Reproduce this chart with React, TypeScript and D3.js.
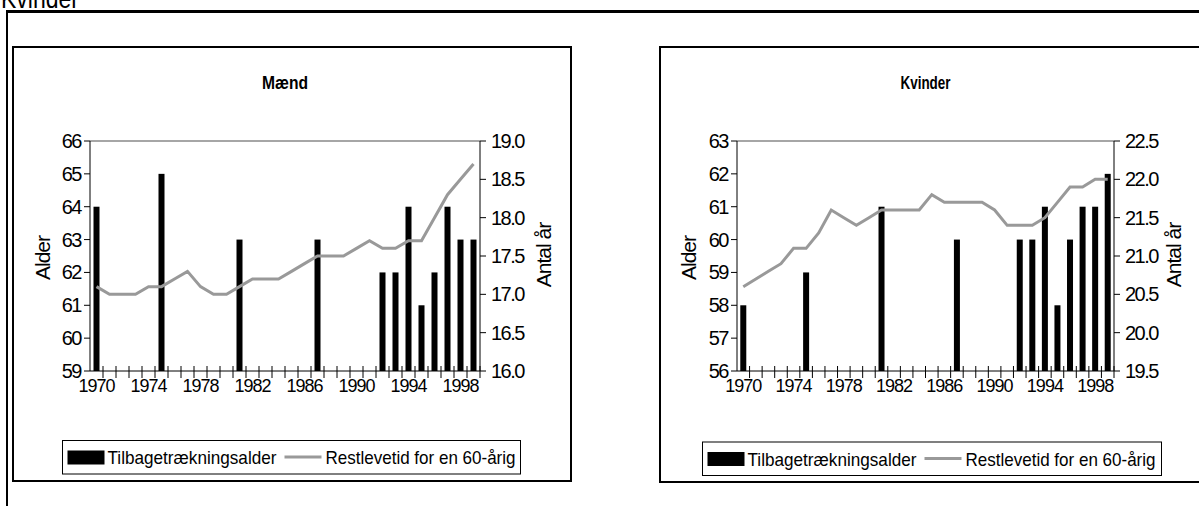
import React from 'react';
import * as d3 from 'd3';

const years = ['1970','1971','1972','1973','1974','1975','1976','1977','1978','1979','1980','1981','1982','1983','1984','1985','1986','1987','1988','1989','1990','1991','1992','1993','1994','1995','1996','1997','1998','1999'];
const xTickLabels = ['1970','1974','1978','1982','1986','1990','1994','1998'];

const maendAlder: (number | null)[] = [64,null,null,null,null,65,null,null,null,null,null,63,null,null,null,null,null,63,null,null,null,null,62,62,64,61,62,64,63,63];
const maendRest = [17.1,17.0,17.0,17.0,17.1,17.1,17.2,17.3,17.1,17.0,17.0,17.1,17.2,17.2,17.2,17.3,17.4,17.5,17.5,17.5,17.6,17.7,17.6,17.6,17.7,17.7,18.0,18.3,18.5,18.7];
const maendLeftTicks = [59,60,61,62,63,64,65,66];
const maendRightTicks = [16.0,16.5,17.0,17.5,18.0,18.5,19.0];

const kvinderAlder: (number | null)[] = [58,null,null,null,null,59,null,null,null,null,null,61,null,null,null,null,null,60,null,null,null,null,60,60,61,58,60,61,61,62];
const kvinderRest = [20.6,20.7,20.8,20.9,21.1,21.1,21.3,21.6,21.5,21.4,21.5,21.6,21.6,21.6,21.6,21.8,21.7,21.7,21.7,21.7,21.6,21.4,21.4,21.4,21.5,21.7,21.9,21.9,22.0,22.0];
const kvinderLeftTicks = [56,57,58,59,60,61,62,63];
const kvinderRightTicks = [19.5,20.0,20.5,21.0,21.5,22.0,22.5];

const legendBarLabel = 'Tilbagetrækningsalder';
const legendLineLabel = 'Restlevetid for en 60-årig';

const FONT = '"Liberation Sans", Arial, Helvetica, sans-serif';
const LINE_COLOR = '#999999';

type ChartProps = {
  frame: { x: number; y: number; w: number; h: number };
  plot: { left: number; right: number; top: number; bottom: number };
  title: string;
  titleLen: number;
  leftTicks: number[];
  rightTicks: number[];
  bars: (number | null)[];
  line: number[];
  legend: { x: number; y: number; w: number; h: number };
  alderX: number;
  antalX: number;
};

function Chart(p: ChartProps) {
  const { plot } = p;
  const x = d3.scaleBand<string>().domain(years).range([plot.left, plot.right]).paddingInner(0).paddingOuter(0);
  const bw = x.bandwidth();
  const yL = d3.scaleLinear().domain([p.leftTicks[0], p.leftTicks[p.leftTicks.length - 1]]).range([plot.bottom, plot.top]);
  const yR = d3.scaleLinear().domain([p.rightTicks[0], p.rightTicks[p.rightTicks.length - 1]]).range([plot.bottom, plot.top]);
  const lineGen = d3.line<number>().x((_, i) => (x(years[i]) as number) + bw / 2).y((d) => yR(d));
  const barW = 6;
  const cx = (plot.left + plot.right) / 2;
  const lg = p.legend;
  return (
    <g>
      <rect x={p.frame.x} y={p.frame.y} width={p.frame.w} height={p.frame.h} fill="#fff" stroke="#000" strokeWidth={2} />
      <text x={cx} y={89} textAnchor="middle" fontFamily={FONT} fontWeight="bold" fontSize={18} textLength={p.titleLen} lengthAdjust="spacingAndGlyphs">{p.title}</text>
      <line x1={plot.left} x2={plot.right} y1={plot.top} y2={plot.top} stroke="#888" strokeWidth={1.5} />
      {p.bars.map((v, i) => v == null ? null : (
        <rect key={i} x={(x(years[i]) as number) + bw / 2 - barW / 2} y={yL(v)} width={barW} height={plot.bottom - yL(v)} fill="#000" />
      ))}
      <path d={lineGen(p.line) || ''} fill="none" stroke={LINE_COLOR} strokeWidth={3} strokeLinejoin="miter" />
      <line x1={plot.left} x2={plot.left} y1={plot.top} y2={plot.bottom} stroke="#000" strokeWidth={1} />
      <line x1={plot.right} x2={plot.right} y1={plot.top} y2={plot.bottom} stroke="#000" strokeWidth={1} />
      <line x1={plot.left} x2={plot.right} y1={plot.bottom} y2={plot.bottom} stroke="#000" strokeWidth={1} />
      {p.leftTicks.map((t) => (
        <g key={'l' + t}>
          <line x1={plot.left - 6} x2={plot.left} y1={yL(t)} y2={yL(t)} stroke="#000" />
          <text x={plot.left - 9} y={yL(t) + 7} textAnchor="end" fontFamily={FONT} fontSize={20} letterSpacing={-1.5}>{t}</text>
        </g>
      ))}
      {p.rightTicks.map((t) => (
        <g key={'r' + t}>
          <line x1={plot.right} x2={plot.right + 6} y1={yR(t)} y2={yR(t)} stroke="#000" />
          <text x={plot.right + 11} y={yR(t) + 7} textAnchor="start" fontFamily={FONT} fontSize={20} letterSpacing={-1.5}>{t.toFixed(1)}</text>
        </g>
      ))}
      {years.map((yr, i) => i === 0 ? null : (
        <line key={'xt' + yr} x1={x(yr) as number} x2={x(yr) as number} y1={plot.bottom - 5} y2={plot.bottom + 7} stroke="#000" />
      ))}
      <line x1={plot.right} x2={plot.right} y1={plot.bottom - 5} y2={plot.bottom + 7} stroke="#000" />
      {xTickLabels.map((lab) => (
        <text key={'xl' + lab} x={(x(lab) as number) + bw / 2} y={392} textAnchor="middle" fontFamily={FONT} fontSize={18} letterSpacing={-1}>{lab}</text>
      ))}
      <text transform={`translate(${p.alderX},258) rotate(-90)`} textAnchor="middle" fontFamily={FONT} fontSize={21} letterSpacing={-1}>Alder</text>
      <text transform={`translate(${p.antalX},255) rotate(-90)`} textAnchor="middle" fontFamily={FONT} fontSize={21} letterSpacing={-1}>Antal år</text>
      <rect x={lg.x} y={lg.y} width={lg.w} height={lg.h} fill="#fff" stroke="#000" strokeWidth={1} />
      <rect x={lg.x + 5} y={lg.y + 10} width={37} height={14} fill="#000" />
      <text x={lg.x + 45} y={lg.y + 23.5} fontFamily={FONT} fontSize={19} textLength={169} lengthAdjust="spacingAndGlyphs">{legendBarLabel}</text>
      <line x1={lg.x + 222} x2={lg.x + 259} y1={lg.y + 16.5} y2={lg.y + 16.5} stroke={LINE_COLOR} strokeWidth={3} />
      <text x={lg.x + 263} y={lg.y + 23.5} fontFamily={FONT} fontSize={19} textLength={190} lengthAdjust="spacingAndGlyphs">{legendLineLabel}</text>
    </g>
  );
}

export default function App() {
  return (
    <svg width={1199} height={506} style={{ position: 'absolute', left: 0, top: 0, background: '#fff' }}>
      <rect x={0} y={0} width={1199} height={506} fill="#fff" />
      <text x={1} y={8} fontFamily={FONT} fontSize={28} textLength={78} lengthAdjust="spacingAndGlyphs">Kvinder</text>
      <line x1={6} x2={1199} y1={11.5} y2={11.5} stroke="#000" strokeWidth={3} />
      <line x1={7} x2={7} y1={10} y2={506} stroke="#000" strokeWidth={2} />
      <Chart
        frame={{ x: 13, y: 47, w: 558, h: 434 }}
        plot={{ left: 90, right: 480, top: 141, bottom: 371 }}
        title="Mænd"
        titleLen={46}
        leftTicks={maendLeftTicks}
        rightTicks={maendRightTicks}
        bars={maendAlder}
        line={maendRest}
        legend={{ x: 62.5, y: 440.5, w: 458, h: 33.5 }}
        alderX={50}
        antalX={551}
      />
      <Chart
        frame={{ x: 660, y: 47, w: 560, h: 435 }}
        plot={{ left: 737, right: 1114, top: 141, bottom: 371 }}
        title="Kvinder"
        titleLen={50}
        leftTicks={kvinderLeftTicks}
        rightTicks={kvinderRightTicks}
        bars={kvinderAlder}
        line={kvinderRest}
        legend={{ x: 702.5, y: 442, w: 459, h: 33.5 }}
        alderX={696}
        antalX={1181}
      />
    </svg>
  );
}
